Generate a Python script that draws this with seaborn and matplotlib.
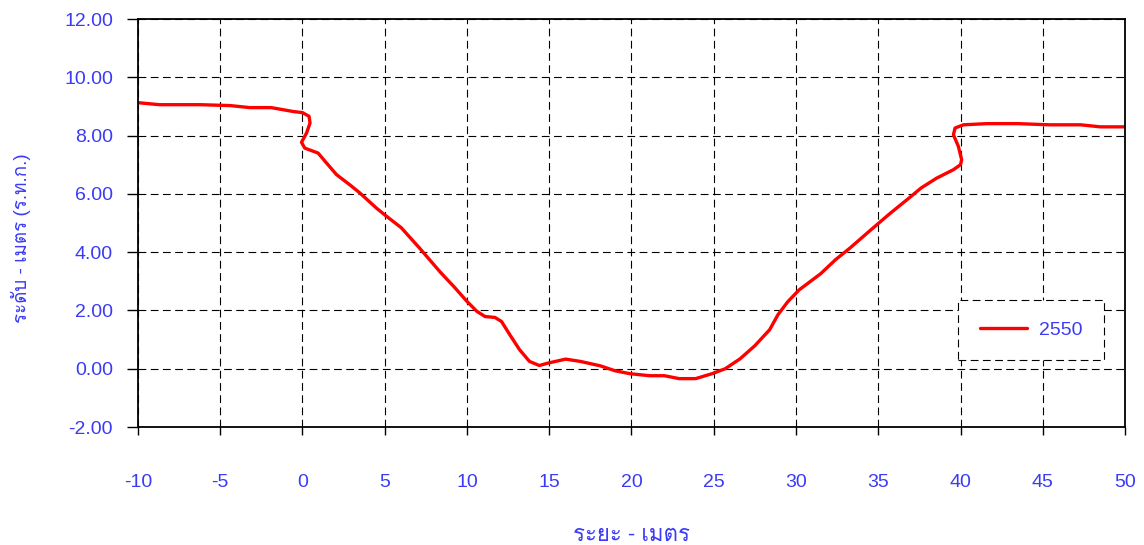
import pandas as pd
import matplotlib
matplotlib.use("Agg")
import matplotlib.pyplot as plt
import seaborn as sns
from matplotlib import font_manager
from matplotlib.ft2font import FT2Font

# Cross section data
distance = [-10, -8.7, -6.2, -4.4, -3.2, -1.9, -0.5, 0.0, 0.4, 0.46, 0.25, -0.06,
            0.14, 0.95, 1.46, 2.07, 2.88, 3.49, 4.5, 5.0, 6.0, 7.1, 8.4, 9.2,
            10.0, 10.6, 11.1, 11.7, 12.1, 12.6, 13.2, 13.8, 14.4, 14.9, 16.0,
            16.9, 18.1, 19.0, 19.9, 21.1, 22.0, 22.9, 23.9, 24.9, 25.7, 26.6,
            27.5, 28.4, 28.9, 29.5, 30.2, 31.5, 32.4, 33.3, 34.5, 35.7, 36.9,
            37.6, 38.55, 39.57, 40.0, 40.07, 39.87, 39.57, 39.67, 40.18, 41.6,
            43.5, 45.4, 47.3, 48.5, 50.0]
level = [9.13, 9.06, 9.06, 9.03, 8.96, 8.96, 8.82, 8.79, 8.66, 8.43, 8.09, 7.77,
         7.57, 7.40, 7.06, 6.66, 6.31, 6.03, 5.51, 5.28, 4.84, 4.15, 3.30, 2.82,
         2.31, 1.97, 1.79, 1.76, 1.62, 1.17, 0.65, 0.25, 0.11, 0.19, 0.33,
         0.25, 0.10, -0.07, -0.17, -0.24, -0.24, -0.34, -0.34, -0.17, 0.0, 0.34,
         0.79, 1.34, 1.85, 2.30, 2.71, 3.26, 3.74, 4.15, 4.74, 5.32, 5.87,
         6.20, 6.54, 6.83, 7.00, 7.17, 7.63, 8.03, 8.26, 8.37, 8.41,
         8.41, 8.37, 8.37, 8.30, 8.30]
series_name = "2550"
x_ticks = list(range(-10, 51, 5))
y_ticks = list(range(-2, 13, 2))
x_label = "ระยะ - เมตร"
y_label = "ระดับ - เมตร (ร.ท.ก.)"

df = pd.DataFrame({"distance": distance, "level": level})

sns.set_theme(style="white")

# find a font that has Thai glyphs
thai_font = None
for f in font_manager.fontManager.ttflist:
    try:
        if 0x0E23 in FT2Font(f.fname).get_charmap():
            thai_font = f.name
            break
    except Exception:
        pass
families = ["Liberation Sans"]
if thai_font:
    families.append(thai_font)
families.append("DejaVu Sans")
plt.rcParams["font.family"] = families
plt.rcParams["axes.unicode_minus"] = False

blue = "#3b3bf5"

fig = plt.figure(figsize=(11.44, 5.45), dpi=100)
ax = fig.add_axes([0.1206, 0.2165, 0.8628, 0.7486])

sns.lineplot(data=df, x="distance", y="level", sort=False, estimator=None,
             color="red", linewidth=2.4, label=series_name, ax=ax,
             solid_joinstyle="round", solid_capstyle="round")

ax.set_xlim(-10, 50)
ax.set_ylim(-2, 12)
ax.set_xticks(x_ticks)
ax.set_yticks(y_ticks)
ax.set_yticklabels([f"{v:.2f}" for v in y_ticks])
ax.tick_params(axis="both", colors="black", labelcolor=blue, labelsize=14,
               direction="out", width=1)
ax.tick_params(axis="x", length=6, pad=28, bottom=True)
ax.tick_params(axis="y", length=8, pad=10, left=True)

ax.grid(True, color="black", linestyle=(0, (7, 4)), linewidth=0.8)
for s in ax.spines.values():
    s.set_color("black")
    s.set_linewidth(1.3)

ax.set_xlabel(x_label, color=blue, fontsize=16, labelpad=24)
ax.set_ylabel(y_label, color=blue, fontsize=13.5)
ax.yaxis.set_label_coords(-0.108, 0.463)

leg = ax.legend(loc="center", bbox_to_anchor=(0.905, 0.2377), fontsize=14,
                fancybox=False, framealpha=1, edgecolor="black",
                handlelength=2.4, handletextpad=0.65, borderpad=1.1,
                borderaxespad=0)
leg.get_frame().set_linestyle((0, (7, 4)))
leg.get_frame().set_linewidth(0.8)
for t in leg.get_texts():
    t.set_color(blue)

fig.savefig("out.png", dpi=100)
